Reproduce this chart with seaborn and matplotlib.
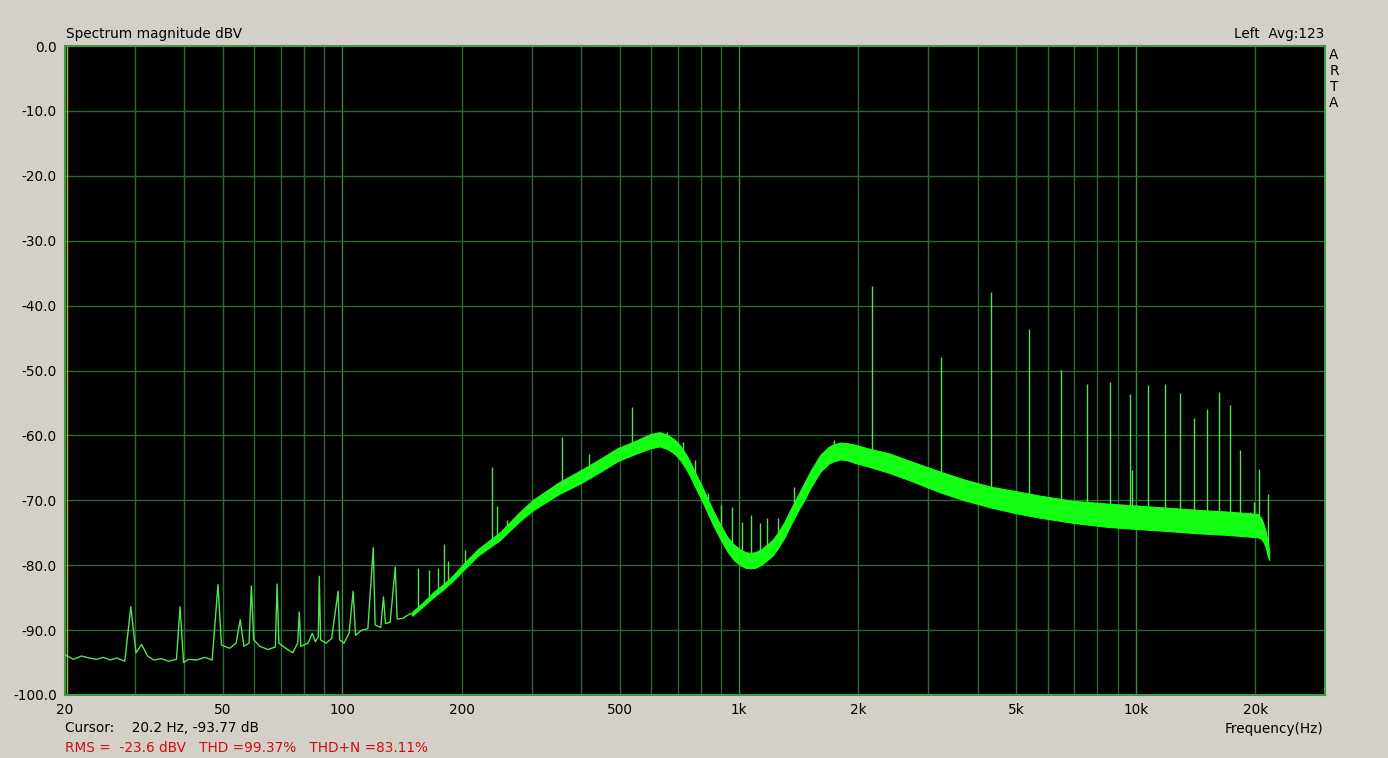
import numpy as np
import pandas as pd
import matplotlib
matplotlib.use("Agg")
import matplotlib.pyplot as plt
import seaborn as sns

# thin noise floor below ~150 Hz (hum peaks included)
low_freq = [20, 21, 22, 23, 24, 25, 26, 27, 28.3, 29.3, 30.2, 31.2, 32.3, 33.5, 35, 36.5,
            38.2, 39.0, 39.8, 41, 43, 45, 47, 48.6, 49.6, 52, 54, 55.3, 56.5, 58.2, 59.0,
            59.8, 62, 65, 67.8, 68.5, 69.2, 72, 75, 77.2, 77.9, 78.6, 82, 84, 85.5, 87.0,
            87.5, 88.2, 91, 94, 97.6, 98.5, 101, 104, 106.5, 108, 112, 116, 119.7, 121,
            125, 127, 128.5, 132, 136, 137.5, 142, 148, 150]
low_db = [-93.8, -94.5, -94.0, -94.3, -94.5, -94.2, -94.6, -94.3, -94.8, -86.4, -93.5,
          -92.2, -94.0, -94.6, -94.4, -94.8, -94.5, -86.4, -95.0, -94.5, -94.6, -94.2,
          -94.6, -83.0, -92.3, -92.8, -92.0, -88.4, -92.5, -92.0, -83.2, -91.5, -92.5,
          -93.0, -92.6, -82.9, -92.0, -92.8, -93.5, -92.0, -87.2, -92.5, -92.0, -90.5,
          -91.8, -91.0, -81.7, -91.5, -92.0, -91.3, -84.0, -91.5, -92.0, -90.5, -84.0,
          -90.8, -90.0, -89.8, -77.3, -89.2, -89.6, -84.9, -89.0, -88.8, -80.3, -88.3,
          -88.2, -87.5, -87.5]

# averaged noise band from 150 Hz up (centre and half width in dB)
band_freq = [150, 160, 170, 180, 190, 204, 220, 250, 280, 303, 350, 398, 450, 493, 550,
             597, 630, 660, 690, 711, 735, 753, 775, 800, 830, 862, 900, 935, 970, 1007,
             1040, 1067, 1100, 1140, 1178, 1215, 1250, 1300, 1349, 1400, 1453, 1520, 1603,
             1680, 1729, 1800, 1875, 1950, 2144, 2400, 2659, 3221, 3700, 4307, 5000, 5757,
             7000, 8491, 10000, 12450, 14500, 16660, 18500, 20290, 20700, 20990, 21300,
             21500, 21700]
band_db = [-87.5, -86.0, -84.5, -83.3, -82.0, -80.0, -78.0, -75.5, -72.5, -70.7, -68.2,
           -66.4, -64.5, -63.0, -61.8, -60.9, -60.6, -61.0, -61.8, -62.7, -64.0, -65.2,
           -66.8, -68.5, -70.6, -72.8, -75.0, -76.8, -78.0, -78.8, -79.2, -79.3, -79.2,
           -78.7, -78.0, -77.3, -76.3, -74.6, -72.6, -70.7, -68.9, -66.6, -64.3, -63.1,
           -62.7, -62.4, -62.5, -62.8, -63.5, -64.3, -65.3, -67.2, -68.4, -69.5, -70.3,
           -71.0, -71.8, -72.3, -72.6, -73.0, -73.3, -73.5, -73.7, -73.9, -74.3, -75.0,
           -76.2, -77.5, -78.4]
band_spread = [0.3, 0.3, 0.4, 0.4, 0.4, 0.5, 0.5, 0.6, 0.7, 0.8, 0.9, 1.0, 1.0, 1.0, 1.0,
               1.1, 1.1, 1.1, 1.1, 1.1, 1.1, 1.1, 1.1, 1.1, 1.1, 1.1, 1.1, 1.1, 1.2, 1.2,
               1.2, 1.2, 1.2, 1.2, 1.2, 1.2, 1.2, 1.2, 1.2, 1.2, 1.3, 1.3, 1.3, 1.3, 1.3,
               1.3, 1.3, 1.4, 1.4, 1.5, 1.5, 1.6, 1.6, 1.6, 1.7, 1.7, 1.7, 1.8, 1.8, 1.8,
               1.8, 1.8, 1.8, 1.8, 1.6, 1.4, 1.2, 1.0, 0.8]

# discrete lines (hum + harmonics of the ~1077 Hz test tone)
spike_freq = [155, 165, 174, 180, 185, 204, 239, 245, 260, 358, 419, 538, 660, 722, 776,
              837, 902, 962, 1019, 1071, 1128, 1174, 1255, 1377, 1731, 2158, 3221, 4307,
              5370, 6470, 7520, 8600, 9700, 9800, 10770, 11820, 12910, 14000, 15100,
              16190, 17260, 18290, 19370, 19830, 20410, 21520]
spike_peak = [-80.4, -80.7, -80.5, -76.7, -79.3, -77.6, -64.9, -70.9, -73.0, -60.2, -62.9,
              -55.6, -59.5, -61.0, -63.8, -68.9, -70.7, -71.0, -73.3, -72.3, -73.5, -72.7,
              -72.7, -68.0, -60.7, -37.0, -47.9, -37.9, -43.6, -49.9, -52.1, -51.8, -53.6,
              -65.3, -52.2, -52.1, -53.5, -57.3, -55.9, -53.3, -55.3, -62.3, -71.8, -70.3,
              -65.2, -69.0]
spike_base = [-86.7, -85.3, -84.5, -83.3, -82.6, -80.0, -76.5, -76.0, -74.5, -68.0, -65.5,
              -62.0, -61.0, -63.3, -66.7, -71.0, -75.0, -77.8, -79.0, -79.3, -78.8, -78.0,
              -76.2, -71.5, -62.7, -63.5, -67.2, -69.5, -70.6, -71.5, -72.0, -72.3, -72.5,
              -72.5, -72.8, -73.0, -73.1, -73.2, -73.3, -73.5, -73.6, -73.7, -73.8, -73.8,
              -73.9, -77.0]

grid_freqs = [30, 40, 50, 60, 70, 80, 90, 100, 200, 300, 400, 500, 600, 700, 800, 900,
              1000, 2000, 3000, 4000, 5000, 6000, 7000, 8000, 9000, 10000, 20000]
label_freqs = [20, 50, 100, 200, 500, 1000, 2000, 5000, 10000, 20000]
label_text = ["20", "50", "100", "200", "500", "1k", "2k", "5k", "10k", "20k"]
y_ticks = [0, -10, -20, -30, -40, -50, -60, -70, -80, -90, -100]

sns.set_style("dark")
plt.rcParams["font.family"] = ["DejaVu Sans"]
plt.rcParams["text.color"] = "black"
bg = "#d4d0c8"
grid_col = "#2c6634"
decade_col = "#3a8a42"
trace = "#14ff14"
thin = "#50e450"

fig = plt.figure(figsize=(13.88, 7.58), dpi=100, facecolor=bg)
ax = fig.add_axes([65 / 1388, 63 / 758, 1260 / 1388, 649 / 758])
ax.set_facecolor("black")
ax.set_xscale("log")
ax.set_xlim(20, 30000)
ax.set_ylim(-100, 0)
ax.grid(False)

for f in grid_freqs:
    c = decade_col if f in (100, 1000, 10000) else grid_col
    ax.axvline(f, color=c, lw=1.0, zorder=1)
for y in y_ticks[1:-1]:
    ax.axhline(y, color=grid_col, lw=1.0, zorder=1)

# cursor at 20.2 Hz
ax.axvline(20.2, color="#b8b800", lw=1.0, zorder=2)

low = pd.DataFrame({"freq": low_freq, "db": low_db})
band = pd.DataFrame({"freq": band_freq, "db": band_db, "spread": band_spread})

ax.vlines(spike_freq, spike_base, spike_peak, color=thin, lw=1.0, zorder=3)
ax.fill_between(band["freq"], band["db"] - band["spread"], band["db"] + band["spread"],
                color=trace, lw=0.8, edgecolor=trace, zorder=4)
sns.lineplot(data=low, x="freq", y="db", ax=ax, color=thin, lw=1.0, zorder=4)
sns.lineplot(data=band, x="freq", y="db", ax=ax, color=trace, lw=1.0, zorder=4)

ax.set_xlabel("")
ax.set_ylabel("")
ax.set_xticks(label_freqs)
ax.set_xticklabels(label_text)
ax.xaxis.set_minor_locator(matplotlib.ticker.NullLocator())
ax.set_yticks(y_ticks)
ax.set_yticklabels([f"{v:.1f}" for v in y_ticks])
ax.tick_params(axis="both", length=0, labelsize=9.8, colors="black")
ax.tick_params(axis="x", pad=6)
ax.tick_params(axis="y", pad=6)
for s in ax.spines.values():
    s.set_visible(True)
    s.set_color("#3c9a4c")
    s.set_linewidth(1.5)

fs = 9.8
fig.text(66 / 1388, 1 - 34 / 758, "Spectrum magnitude dBV", fontsize=fs, va="center")
fig.text(1324 / 1388, 1 - 34 / 758, "Left  Avg:123", fontsize=fs, va="center", ha="right")
for i, ch in enumerate("ARTA"):
    fig.text(1334 / 1388, 1 - (55 + 16 * i) / 758, ch, fontsize=fs, va="center", ha="center")
fig.text(65 / 1388, 1 - 728 / 758, "Cursor:    20.2 Hz, -93.77 dB", fontsize=fs, va="center")
fig.text(65 / 1388, 1 - 748 / 758, "RMS =  -23.6 dBV   THD =99.37%   THD+N =83.11%",
         fontsize=fs, va="center", color="#cc1010")
fig.text(1323 / 1388, 1 - 729 / 758, "Frequency(Hz)", fontsize=fs, va="center", ha="right")

fig.savefig("out.png", dpi=100, facecolor=bg)
